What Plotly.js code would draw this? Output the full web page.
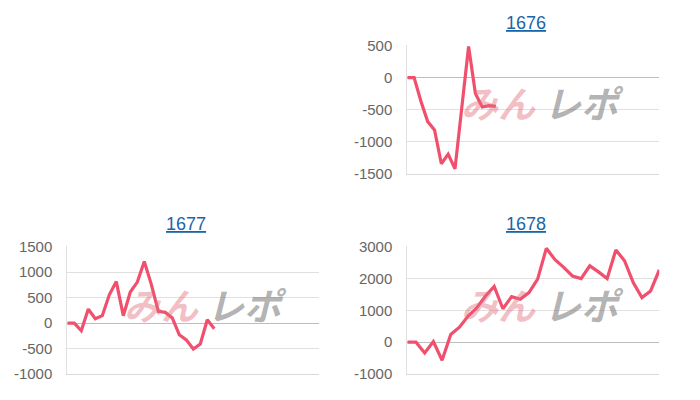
<!DOCTYPE html>
<html>
<head>
<meta charset="utf-8">
<script src="https://cdn.plot.ly/plotly-3.0.1.min.js"></script>
<style>html,body{margin:0;padding:0;background:#fff;}#chart{width:700px;height:400px;}</style>
</head>
<body>
<div id="chart"></div>
<script>
// Titles of the three small charts
const titles = ["1676", "1677", "1678"];
// Number of x categories per chart
const categoryCounts = [38, 37, 30];
// Series values
const values1676 = [0, 0, -370, -690, -820, -1350, -1200, -1430, -470, 490, -250, -460, -440, -450];
const values1677 = [0, 0, -150, 275, 85, 145, 555, 815, 145, 610, 805, 1210, 760, 230, 210, 100, -230, -330, -510, -410, 65, -110];
const values1678 = [0, 0, -340, 20, -570, 240, 470, 820, 1080, 1450, 1750, 1050, 1430, 1350, 1560, 1980, 2950, 2590, 2350, 2080, 2000, 2400, 2210, 2000, 2900, 2560, 1870, 1400, 1610, 2270];
// Y tick values and labels
const ticks1676 = [-1500, -1000, -500, 0, 500];
const ticks1677 = [-1000, -500, 0, 500, 1000, 1500];
const ticks1678 = [-1000, 0, 1000, 2000, 3000];
const series = [values1676, values1677, values1678];
const tickSets = [ticks1676, ticks1677, ticks1678];
const watermarkA = "みん";
const watermarkB = "レポ";

const W = 700, H = 400;
// plot boxes in pixels: [left, right, top, bottom]
const boxes = [
  [407.3, 659.3, 45.7, 173.3],
  [67.3, 319.3, 246.7, 374],
  [407.3, 659.3, 246.7, 374]
];
const titlePos = [[526, 23], [186, 224], [526, 224]];
const wmPos = [[541, 102], [204, 304], [541, 304]];

const lineColor = "#f0506e";
const data = [];
const layout = {
  width: W, height: H,
  margin: {l: 0, r: 0, t: 0, b: 0},
  paper_bgcolor: "#fff", plot_bgcolor: "#fff",
  showlegend: false,
  annotations: []
};
const font = "Liberation Sans, Arial, sans-serif";

series.forEach((vals, i) => {
  const n = i === 0 ? "" : String(i + 1);
  const b = boxes[i];
  const ticks = tickSets[i];
  const lo = ticks[0], hi = ticks[ticks.length - 1];
  const pad = (hi - lo) * 0.004;
  const xs = vals.map((v, k) => k);
  data.push({
    type: "scatter", mode: "lines",
    x: xs, y: vals,
    xaxis: "x" + n, yaxis: "y" + n,
    line: {color: lineColor, width: 3.2},
    hoverinfo: "skip"
  });
  layout["xaxis" + n] = {
    domain: [b[0] / W, b[1] / W],
    anchor: "y" + n,
    range: [0, categoryCounts[i] - 1],
    showgrid: false, zeroline: false,
    showline: true, linecolor: "#d9d9d9", linewidth: 1,
    showticklabels: false, ticks: "", fixedrange: true
  };
  layout["yaxis" + n] = {
    domain: [1 - b[3] / H - 0.0012, 1 - b[2] / H + 0.0012],
    anchor: "x" + n,
    range: [lo - pad, hi + pad],
    tickmode: "array",
    tickvals: ticks,
    ticktext: ticks.map(t => String(t)),
    showgrid: true, gridcolor: "#e0e0e0", gridwidth: 1,
    zeroline: true, zerolinecolor: "#bdbdbd", zerolinewidth: 1,
    showline: true, linecolor: "#e0e0e0", linewidth: 1,
    ticks: "outside", ticklen: 11, tickcolor: "rgba(0,0,0,0)",
    tickfont: {family: font, size: 15, color: "#666"},
    fixedrange: true
  };
  layout.annotations.push({
    xref: "paper", yref: "paper",
    x: titlePos[i][0] / W, y: 1 - titlePos[i][1] / H,
    xanchor: "center", yanchor: "middle",
    text: "<u>" + titles[i] + "</u>",
    showarrow: false,
    font: {family: font, size: 18, color: "#1a65a8"}
  });
  layout.annotations.push({
    xref: "paper", yref: "paper",
    x: (wmPos[i][0] - 3) / W, y: 1 - wmPos[i][1] / H,
    xanchor: "right", yanchor: "middle",
    text: "<i>" + watermarkA + "</i>",
    showarrow: false,
    font: {family: "Noto Sans CJK JP", size: 37, weight: "bold", color: "rgba(226,110,124,0.45)"}
  });
  layout.annotations.push({
    xref: "paper", yref: "paper",
    x: (wmPos[i][0] + 1) / W, y: 1 - wmPos[i][1] / H,
    xanchor: "left", yanchor: "middle",
    text: "<i>" + watermarkB + "</i>",
    showarrow: false,
    font: {family: "Noto Sans CJK JP", size: 37, weight: "bold", color: "rgba(115,115,115,0.55)"}
  });
});

Plotly.newPlot("chart", data, layout, {staticPlot: true, displayModeBar: false});
</script>
</body>
</html>
